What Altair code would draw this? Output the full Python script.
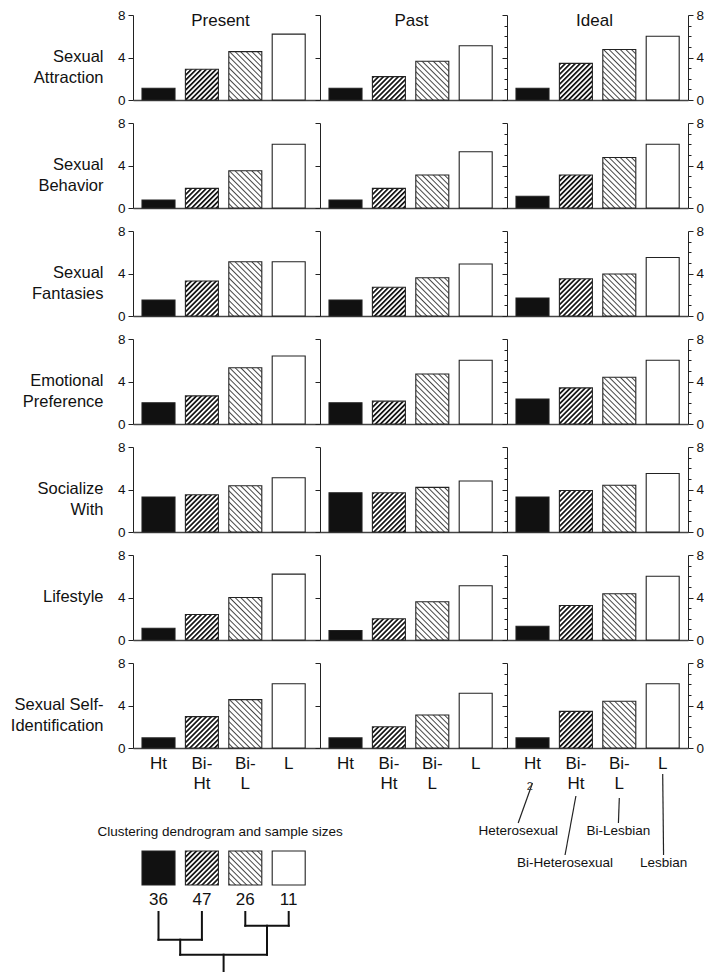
import urllib.parse
import pandas as pd
import altair as alt

FONT = "Liberation Sans"

# ---------------- data ----------------
groups = ["Ht", "Bi-Ht", "Bi-L", "L"]
periods = ["Present", "Past", "Ideal"]
row_labels = [
    "Sexual\nAttraction",
    "Sexual\nBehavior",
    "Sexual\nFantasies",
    "Emotional\nPreference",
    "Socialize\nWith",
    "Lifestyle",
    "Sexual Self-\nIdentification",
]
# each row: [Present, Past, Ideal], each a list for [Ht, Bi-Ht, Bi-L, L]
attraction = [[1.1, 2.9, 4.55, 6.2], [1.1, 2.2, 3.65, 5.1], [1.1, 3.45, 4.75, 6.0]]
behavior = [[0.75, 1.85, 3.5, 6.0], [0.75, 1.85, 3.1, 5.3], [1.1, 3.1, 4.75, 6.0]]
fantasies = [[1.5, 3.3, 5.1, 5.1], [1.5, 2.7, 3.6, 4.9], [1.7, 3.5, 3.95, 5.5]]
emotional = [[2.0, 2.65, 5.3, 6.4], [2.0, 2.15, 4.7, 6.0], [2.35, 3.4, 4.4, 6.0]]
socialize = [[3.3, 3.5, 4.35, 5.1], [3.7, 3.7, 4.2, 4.8], [3.3, 3.9, 4.4, 5.5]]
lifestyle = [[1.1, 2.4, 4.0, 6.2], [0.9, 2.0, 3.6, 5.1], [1.3, 3.25, 4.35, 6.0]]
identification = [[0.95, 2.95, 4.55, 6.05], [0.95, 2.0, 3.1, 5.15], [0.95, 3.45, 4.4, 6.05]]
table = [attraction, behavior, fantasies, emotional, socialize, lifestyle, identification]

sample_sizes = [36, 47, 26, 11]
caption = "Clustering dendrogram and sample sizes"
# dendrogram: leaves 0..3; merges (node a, node b, level); new nodes get ids 4, 5, 6
dendro_leaf_top = 141
dendro_merges = [(2, 3, 154.7), (0, 1, 168.7), (4, 5, 183.7)]
dendro_root_end = 200

ann_labels = ["Heterosexual", "Bi-Heterosexual", "Bi-Lesbian", "Lesbian"]
ann_dx = [-0.33, -0.25, -0.02, 0.02]
ann_label_y = [60, 92, 60, 92]
ann_line_bottom = [52, 84, 52, 84]
ann_line_top = [12, 25, 27, 3]
ann_note = ["2"]
ann_note_idx = [-0.06]
ann_note_y = [16]

# ---------------- geometry / style ----------------
STEP = 43.4
BAR_W = 33
LEFT = 9
widths = [187, 187, 181]
PANEL_H = 85
ROW_GAP = 23
BOTTOM_H = 205
N = len(groups)


def band(W):
    pi = 1 - BAR_W / STEP
    po = (W / STEP - N + pi) / 2
    outer = W - (N - pi) * STEP
    return pi, po, LEFT / outer


def qdomain(W):
    c0 = LEFT + BAR_W / 2
    d0 = -c0 / STEP
    return [d0, d0 + W / STEP]


def hatch_uri(period, lw, angle, color):
    svg = (
        "<svg xmlns='http://www.w3.org/2000/svg' width='100%' height='100%'>"
        f"<defs><pattern id='p' patternUnits='userSpaceOnUse' width='{period}' height='20' "
        f"patternTransform='rotate({angle})'>"
        f"<rect x='0' y='0' width='{lw}' height='20' fill='{color}'/></pattern></defs>"
        "<rect width='100%' height='100%' fill='white'/>"
        "<rect width='100%' height='100%' fill='url(#p)'/></svg>"
    )
    return "data:image/svg+xml;charset=utf-8," + urllib.parse.quote(svg)


HATCH = {
    "Bi-Ht": hatch_uri(3.5, 1.7, 45, "#111"),
    "Bi-L": hatch_uri(3.95, 0.9, -45, "#333"),
}
FILL = alt.Scale(domain=groups, range=["#111111", "transparent", "transparent", "white"])

X_LABEL_EXPR = (
    "indexof(datum.label, '-') > 0 ? "
    "[slice(datum.label, 0, indexof(datum.label, '-') + 1), slice(datum.label, indexof(datum.label, '-') + 1)]"
    " : datum.label"
)


def y_axis(orient, show_labels, title=None):
    kw = dict(
        orient=orient, values=list(range(9)), grid=False,
        domain=True, domainColor="#222", domainWidth=1,
        ticks=True, tickColor="#222", tickWidth=1,
        tickSize={"condition": {"test": "datum.value % 4 === 0", "value": 5}, "value": 3},
        labels=show_labels, labelExpr="datum.value % 4 === 0 ? datum.label : ''",
        labelOverlap=False, labelFontSize=13.5, labelPadding=3, labelColor="#111", labelFont=FONT,
    )
    if title:
        kw.update(
            title=title, titleAngle=0, titleAlign="right", titleBaseline="middle",
            titleX=-30, titleY=PANEL_H / 2 - 1, titleFontSize=16.5, titleFontWeight="normal",
            titleLineHeight=21, titleFont=FONT, titleColor="#111",
        )
    else:
        kw["title"] = None
    return alt.Axis(**kw)


def ychan(field_or_datum, scale, axis="omit", **kw):
    """Y channel; in shared-axis layers the extra layers simply leave the axis unspecified."""
    if isinstance(field_or_datum, str):
        if axis == "omit":
            return alt.Y(field_or_datum, scale=scale, **kw)
        return alt.Y(field_or_datum, scale=scale, axis=axis, **kw)
    if axis == "omit":
        return alt.YDatum(field_or_datum, scale=scale)
    return alt.YDatum(field_or_datum, scale=scale, axis=axis)


def panel(r, c):
    W = widths[c]
    pi, po, al = band(W)
    xs = alt.Scale(domain=groups, paddingInner=pi, paddingOuter=po, align=al)
    ys = alt.Scale(domain=[0, 8], nice=False)
    last = r == len(row_labels) - 1
    xax = alt.Axis(
        title=None, orient="bottom", domain=True, domainColor="#444", domainWidth=1.6,
        ticks=False, tickSize=0, labels=last, labelAngle=0, labelExpr=X_LABEL_EXPR,
        labelFontSize=17, labelLineHeight=20, labelPadding=7, labelColor="#111", labelFont=FONT,
    )
    df = pd.DataFrame({"group": groups, "value": table[r][c]})
    base = alt.Chart(df).encode(x=alt.X("group:N", scale=xs, axis=xax, sort=groups))

    if c == 0:
        left = y_axis("left", True, row_labels[r].split("\n"))
    else:
        left = y_axis("left", False)
    other = None if c == 2 else "omit"

    layers = [
        base.mark_bar(strokeWidth=0).encode(
            y=alt.Y("value:Q", scale=ys, axis=left, stack=None),
            fill=alt.Fill("group:N", scale=FILL, legend=None),
        )
    ]
    for g, uri in HATCH.items():
        layers.append(
            base.transform_filter(alt.datum.group == g)
            .mark_image(aspect=False)
            .encode(y=ychan("value:Q", ys, other), y2=alt.datum(0), url=alt.value(uri))
        )
    layers.append(
        base.mark_bar(fill="transparent", fillOpacity=0, stroke="#222", strokeWidth=1.1).encode(
            y=ychan("value:Q", ys, (y_axis("right", True) if c == 2 else "omit"), stack=None),
        )
    )
    if r == 0:
        tdf = pd.DataFrame({"t": [periods[c]]})
        dx = [-6, -2, -3][c]
        layers.append(
            alt.Chart(tdf).mark_text(fontSize=17, font=FONT, color="#111", baseline="middle")
            .encode(x=alt.value(W / 2 + dx), y=ychan(7.4, ys, other), text="t:N")
        )
    ch = alt.layer(*layers).properties(width=W, height=PANEL_H)
    if c == 2:
        ch = ch.resolve_axis(y="independent")
    return ch


cells = [panel(r, c) for r in range(len(row_labels)) for c in range(3)]

# ---------------- bottom: legend + dendrogram ----------------
W0 = widths[0]
xq0 = alt.Scale(domain=qdomain(W0), nice=False, zero=False)
yqb = alt.Scale(domain=[0, BOTTOM_H], reverse=True, nice=False, zero=False)
half = BAR_W / STEP / 2
leg = pd.DataFrame({"group": groups, "idx": list(range(N)), "n": sample_sizes})
sq = alt.Chart(leg).transform_calculate(
    x0=f"datum.idx - {half}", x1=f"datum.idx + {half}"
).encode(
    x=alt.X("x0:Q", scale=xq0, axis=None), x2="x1:Q",
    y=alt.YDatum(80, scale=yqb, axis=None), y2=alt.Y2Datum(114),
)
leg_layers = [sq.mark_rect(strokeWidth=0).encode(fill=alt.Fill("group:N", scale=FILL, legend=None))]
for g, uri in HATCH.items():
    leg_layers.append(sq.transform_filter(alt.datum.group == g).mark_image(aspect=False).encode(url=alt.value(uri)))
leg_layers.append(sq.mark_rect(fill="transparent", fillOpacity=0, stroke="#222", strokeWidth=1.1))
leg_layers.append(
    alt.Chart(leg).mark_text(fontSize=17, font=FONT, color="#111", baseline="middle").encode(
        x=alt.X("idx:Q", scale=xq0, axis=None), y=alt.YDatum(129, scale=yqb, axis=None), text="n:N"
    )
)
leg_layers.append(
    alt.Chart(pd.DataFrame({"t": [caption]})).mark_text(fontSize=13.5, font=FONT, color="#111", baseline="middle").encode(
        x=alt.XDatum(1.42, scale=xq0, axis=None), y=alt.YDatum(61, scale=yqb, axis=None), text="t:N"
    )
)
pos = {i: float(i) for i in range(N)}
lev = {i: dendro_leaf_top for i in range(N)}
segs = []
nid = N
for a, b, h in dendro_merges:
    segs.append((pos[a], lev[a], pos[a], h))
    segs.append((pos[b], lev[b], pos[b], h))
    segs.append((pos[a], h, pos[b], h))
    pos[nid] = (pos[a] + pos[b]) / 2
    lev[nid] = h
    nid += 1
root = nid - 1
segs.append((pos[root], lev[root], pos[root], dendro_root_end))
segdf = pd.DataFrame(segs, columns=["x", "y", "x2", "y2"])
leg_layers.append(
    alt.Chart(segdf).mark_rule(strokeWidth=2, color="#111", strokeCap="square").encode(
        x=alt.X("x:Q", scale=xq0, axis=None), x2="x2:Q",
        y=alt.Y("y:Q", scale=yqb, axis=None), y2="y2:Q",
    )
)
legend_chart = alt.layer(*leg_layers).properties(width=W0, height=BOTTOM_H)

spacer = alt.Chart(pd.DataFrame({"v": [0]})).mark_point(opacity=0).encode(
    x=alt.X("v:Q", axis=None), y=alt.Y("v:Q", axis=None)
).properties(width=widths[1], height=BOTTOM_H)

# ---------------- bottom: group name annotations ----------------
W2 = widths[2]
xq2 = alt.Scale(domain=qdomain(W2), nice=False, zero=False)
ann = pd.DataFrame({
    "label": ann_labels, "idx": list(range(N)), "dx": ann_dx,
    "ly": ann_label_y, "yb": ann_line_bottom, "yt": ann_line_top,
})
ann_base = alt.Chart(ann).transform_calculate(lx="datum.idx + datum.dx")
ann_text = ann_base.mark_text(fontSize=13.5, font=FONT, color="#111", baseline="middle").encode(
    x=alt.X("lx:Q", scale=xq2, axis=None), y=alt.Y("ly:Q", scale=yqb, axis=None), text="label:N"
)
ann_lines = ann_base.mark_rule(strokeWidth=1.2, color="#222").encode(
    x=alt.X("lx:Q", scale=xq2, axis=None), x2="idx:Q",
    y=alt.Y("yb:Q", scale=yqb, axis=None), y2="yt:Q",
)
note = alt.Chart(pd.DataFrame({"t": ann_note, "nx": ann_note_idx, "ny": ann_note_y})).mark_text(
    fontSize=11, font=FONT, color="#333", baseline="middle"
).encode(x=alt.X("nx:Q", scale=xq2, axis=None), y=alt.Y("ny:Q", scale=yqb, axis=None), text="t:N")
ann_chart = alt.layer(ann_lines, ann_text, note).properties(width=W2, height=BOTTOM_H)

cells += [legend_chart, spacer, ann_chart]

chart = alt.concat(
    *cells, columns=3, spacing={"row": ROW_GAP, "column": 0}, bounds="flush"
).properties(
    padding={"left": 2, "top": 0, "right": 0, "bottom": 0}
).configure(font=FONT, view=alt.ViewConfig(stroke=None))

chart.save("out.html", embed_options={"renderer": "svg", "actions": False})
